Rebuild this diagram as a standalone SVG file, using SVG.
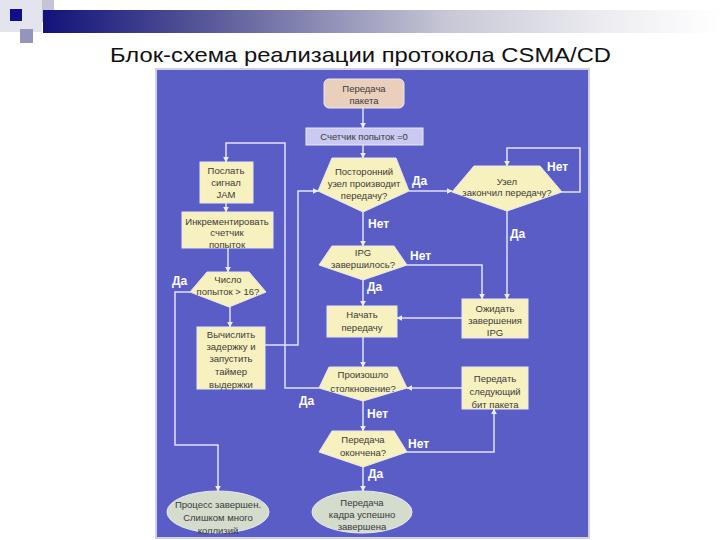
<svg xmlns="http://www.w3.org/2000/svg" width="720" height="540" viewBox="0 0 720 540">
<defs>
<linearGradient id="bar" x1="0" y1="0" x2="1" y2="0">
<stop offset="0" stop-color="#12127a"/>
<stop offset="0.25" stop-color="#5a5a9a"/>
<stop offset="0.6" stop-color="#c8c8d6"/>
<stop offset="0.85" stop-color="#efeff3"/>
<stop offset="1" stop-color="#ffffff"/>
</linearGradient>
<marker id="ah" viewBox="0 0 10 10" refX="9" refY="5" markerWidth="6" markerHeight="6" orient="auto" markerUnits="userSpaceOnUse">
<path d="M0,0 L10,5 L0,10 Z" fill="#eeeefa"/>
</marker>
<style>
.ln{fill:none;stroke:#e2e2f4;stroke-width:1.5;marker-end:url(#ah)}
.ln2{fill:none;stroke:#e2e2f4;stroke-width:1.5}
.box{fill:#f7f1bf;stroke:#e9e9ef;stroke-width:1}
.dec{fill:#f7f1bf;stroke:#e9e9ef;stroke-width:1}
.end{fill:#d3dccd;stroke:#e9e9ef;stroke-width:1}
.t{font-family:"Liberation Sans",Arial,sans-serif;font-size:9.5px;fill:#3a3a3a;text-anchor:middle}
.lb{font-family:"Liberation Sans",Arial,sans-serif;font-size:12px;font-weight:bold;fill:#ffffff}
</style>
</defs>
<rect width="720" height="540" fill="#ffffff"/>
<g id="header">
<rect x="0" y="0" width="42" height="32" fill="#e4e4ee"/>
<rect x="42" y="0" width="12" height="22" fill="#c4c4d8"/>
<rect x="43" y="10" width="677" height="23" fill="url(#bar)"/>
<rect x="10" y="9" width="12" height="12" fill="#10108c"/>
<rect x="20" y="29" width="13" height="14" fill="#9494bc"/>
<text x="110" y="62" font-family="'Liberation Sans',Arial,sans-serif" font-size="21" fill="#111111" textLength="501" lengthAdjust="spacingAndGlyphs">Блок-схема реализации протокола CSMA/CD</text>
</g>
<rect id="panel" x="156" y="69" width="433" height="469" fill="#5a5dc6" stroke="#cfcfe0" stroke-width="2"/>
<g id="connectors">
<path class="ln" d="M363,108 V128"/>
<path class="ln" d="M363,145 V158"/>
<path class="ln" d="M409,191 H452"/>
<path class="ln" d="M562,192 H580 V148 H507 V166"/>
<path class="ln" d="M507,211 V299"/>
<path class="ln" d="M363,212 V246"/>
<path class="ln" d="M407,265 H482 V299"/>
<path class="ln" d="M363,280 V306"/>
<path class="ln" d="M462,318 H397"/>
<path class="ln" d="M363,337 V367"/>
<path class="ln" d="M462,388 H407"/>
<path class="ln" d="M363,401 V431"/>
<path class="ln" d="M407,452 H494 V409"/>
<path class="ln" d="M363,467 V491"/>
<path class="ln" d="M319,388 H285 V143 H226 V162"/>
<path class="ln" d="M226,203 V212"/>
<path class="ln" d="M228,248 V272"/>
<path class="ln" d="M230,307 V327"/>
<path class="ln" d="M190,292 H175 V445 H218 V491"/>
<path class="ln" d="M265,345 H298 V191 H318"/>
</g>
<g id="labels">
<text class="lb" x="412" y="185">Да</text>
<text class="lb" x="547" y="171">Нет</text>
<text class="lb" x="368" y="228">Нет</text>
<text class="lb" x="510" y="238">Да</text>
<text class="lb" x="410" y="260">Нет</text>
<text class="lb" x="367" y="291">Да</text>
<text class="lb" x="172" y="285">Да</text>
<text class="lb" x="299" y="405">Да</text>
<text class="lb" x="367" y="418">Нет</text>
<text class="lb" x="408" y="448">Нет</text>
<text class="lb" x="368" y="478">Да</text>
</g>
<g id="start">
<rect x="324" y="79" width="80" height="29" rx="5" fill="#ead0bc" stroke="#e9e9ef"/>
<text class="t" x="364" y="92">Передача</text>
<text class="t" x="364" y="104">пакета</text>
</g>
<g id="counter0">
<rect x="306" y="128" width="117" height="17" fill="#c9c9f2" stroke="#e9e9ef"/>
<text class="t" x="364" y="140">Счетчик попыток =0</text>
</g>
<g id="busy">
<path class="dec" d="M332,158 H396 L409,191 L363,212 L318,191 Z"/>
<text class="t" x="364" y="175">Посторонний</text>
<text class="t" x="364" y="187">узел производит</text>
<text class="t" x="364" y="199">передачу?</text>
</g>
<g id="nodedone">
<path class="dec" d="M474,166 H540 L562,192 L507,211 L452,192 Z"/>
<text class="t" x="507" y="185">Узел</text>
<text class="t" x="507" y="196">закончил передачу?</text>
</g>
<g id="ipg">
<path class="dec" d="M332,246 H394 L407,265 L363,280 L319,265 Z"/>
<text class="t" x="363" y="256">IPG</text>
<text class="t" x="363" y="268">завершилось?</text>
</g>
<g id="waitipg">
<rect class="box" x="462" y="299" width="66" height="39"/>
<text class="t" x="495" y="312">Ожидать</text>
<text class="t" x="495" y="324">завершения</text>
<text class="t" x="495" y="336">IPG</text>
</g>
<g id="starttx">
<rect class="box" x="327" y="306" width="70" height="31"/>
<text class="t" x="362" y="318">Начать</text>
<text class="t" x="362" y="331">передачу</text>
</g>
<g id="collision">
<path class="dec" d="M329,367 H397 L407,388 L363,401 L319,388 Z"/>
<text class="t" x="363" y="378">Произошло</text>
<text class="t" x="363" y="392">столкновение?</text>
</g>
<g id="nextbit">
<rect class="box" x="462" y="367" width="66" height="42"/>
<text class="t" x="495" y="382">Передать</text>
<text class="t" x="495" y="395">следующий</text>
<text class="t" x="495" y="408">бит пакета</text>
</g>
<g id="txdone">
<path class="dec" d="M332,431 H394 L407,452 L363,467 L319,452 Z"/>
<text class="t" x="363" y="443">Передача</text>
<text class="t" x="363" y="456">окончена?</text>
</g>
<g id="success">
<ellipse class="end" cx="362" cy="512" rx="50" ry="21"/>
<text class="t" x="362" y="506">Передача</text>
<text class="t" x="362" y="518">кадра успешно</text>
<text class="t" x="362" y="530">завершена</text>
</g>
<g id="jam">
<rect class="box" x="200" y="162" width="53" height="41"/>
<text class="t" x="226" y="174">Послать</text>
<text class="t" x="226" y="186">сигнал</text>
<text class="t" x="226" y="198">JAM</text>
</g>
<g id="incr">
<rect class="box" x="182" y="212" width="91" height="36"/>
<text class="t" x="227" y="225">Инкрементировать</text>
<text class="t" x="227" y="236">счетчик</text>
<text class="t" x="227" y="248">попыток</text>
</g>
<g id="attempts">
<path class="dec" d="M207,272 H249 L266,292 L229,307 L190,292 Z"/>
<text class="t" x="228" y="283">Число</text>
<text class="t" x="228" y="295">попыток &gt; 16?</text>
</g>
<g id="backoff">
<rect class="box" x="197" y="327" width="68" height="62"/>
<text class="t" x="231" y="338">Вычислить</text>
<text class="t" x="231" y="350">задержку и</text>
<text class="t" x="231" y="362">запустить</text>
<text class="t" x="231" y="375">таймер</text>
<text class="t" x="231" y="388">выдержки</text>
</g>
<g id="abort">
<ellipse class="end" cx="218" cy="512" rx="51" ry="21"/>
<text class="t" x="218" y="508">Процесс завершен.</text>
<text class="t" x="218" y="521">Слишком много</text>
<text class="t" x="218" y="534">коллизий</text>
</g>
</svg>
